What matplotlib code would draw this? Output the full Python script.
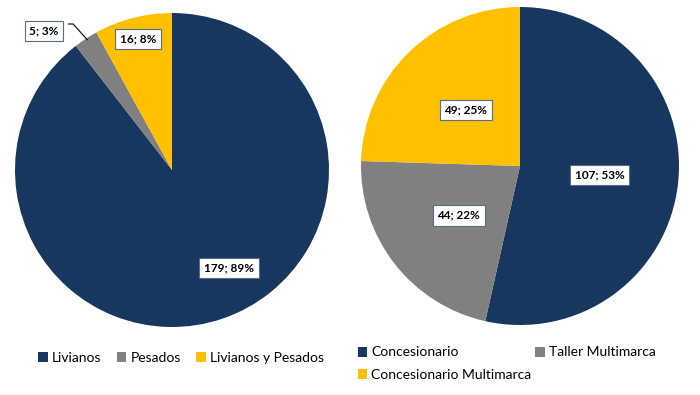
import matplotlib
matplotlib.use("Agg")
import matplotlib.pyplot as plt
from matplotlib.patches import Patch

plt.rcParams['font.family'] = ['Lato', 'DejaVu Sans']

left_cats = ["Livianos", "Pesados", "Livianos y Pesados"]
left_vals = [179, 5, 16]
left_pcts = [89, 3, 8]

right_cats = ["Concesionario", "Taller Multimarca", "Concesionario Multimarca"]
right_vals = [107, 44, 49]
right_pcts = [53, 22, 25]

colors = ["#17375E", "#808080", "#FFC000"]

# label placement (in units of pie radius)
left_label_pos = [(0.363, -0.624), (-0.815, 0.885), (-0.217, 0.834)]
right_label_pos = [(0.50, -0.057), (-0.385, -0.31), (-0.34, 0.352)]

fig = plt.figure(figsize=(7, 3.95), dpi=100)

axL = fig.add_axes([15/700, (395-327)/395, 314/700, 314/395])
axR = fig.add_axes([361/700, (395-325)/395, 318/700, 318/395])

bbox = dict(boxstyle="square,pad=0.4", fc="white", ec="#5A6B85", lw=0.8)

for ax, vals, pcts, pos in [(axL, left_vals, left_pcts, left_label_pos),
                            (axR, right_vals, right_pcts, right_label_pos)]:
    ax.pie(vals, colors=colors, startangle=90, counterclock=False, radius=1,
           wedgeprops=dict(linewidth=0))
    ax.set_xlim(-1, 1)
    ax.set_ylim(-1, 1)
    ax.set_aspect('equal')
    ax.axis('off')
    for v, p, (x, y) in zip(vals, pcts, pos):
        ax.text(x, y, f"{v}; {p}%", ha='center', va='center', fontsize=8.5,
                fontweight='bold', color='black', bbox=bbox, zorder=5)

# leader line for small slice
axL.plot([-0.66, -0.63, -0.54], [0.93, 0.93, 0.83], color='black', lw=0.8, zorder=4)

handlesL = [Patch(facecolor=c, edgecolor='none') for c in colors]
fig.legend(handlesL, left_cats, loc='center', bbox_to_anchor=(181/700, 1-358/395),
           ncol=3, frameon=False, fontsize=10, handlelength=0.7, handleheight=0.7,
           handletextpad=0.3, columnspacing=1.1)

order = [0, 2, 1]
handlesR = [Patch(facecolor=colors[i], edgecolor='none') for i in order]
labelsR = [right_cats[i] for i in order]
fig.legend(handlesR, labelsR, loc='upper left', bbox_to_anchor=(345/700, 1-334/395),
           ncol=2, frameon=False, fontsize=10, handlelength=0.7, handleheight=0.7,
           handletextpad=0.3, columnspacing=0.25, labelspacing=0.75)

fig.savefig("out.png", dpi=100)
